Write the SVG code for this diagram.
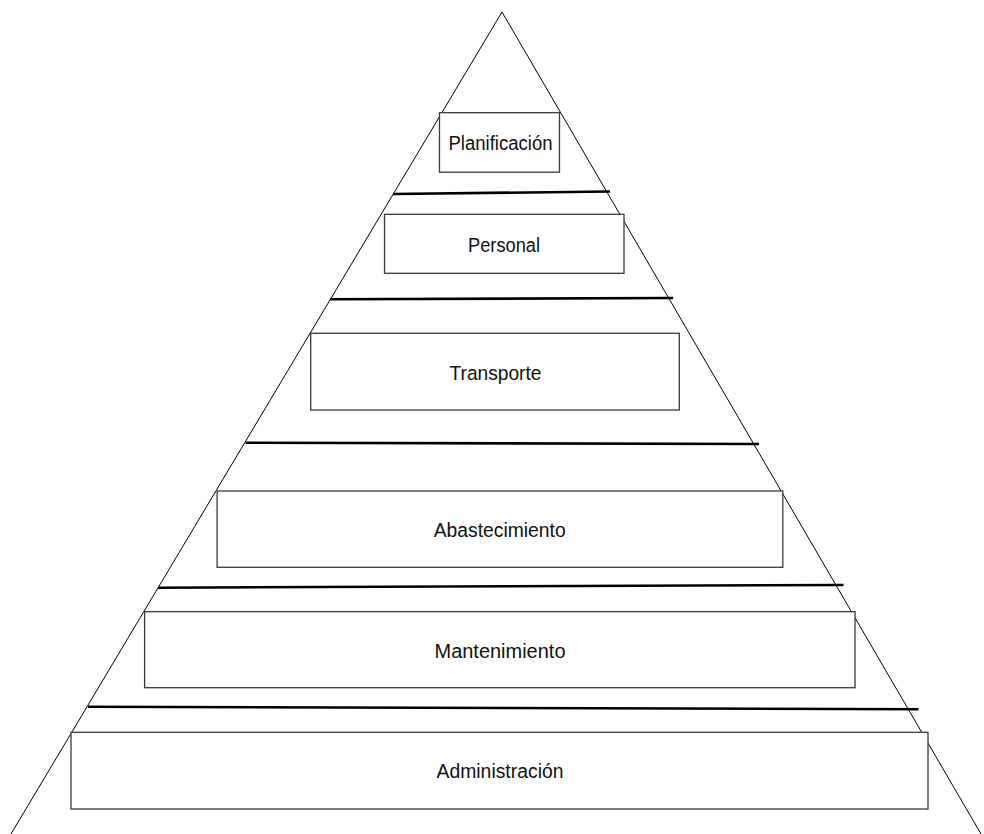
<svg xmlns="http://www.w3.org/2000/svg" width="984" height="834" viewBox="0 0 984 834">
  <style>
    .edge { stroke: #000; stroke-width: 1; fill: none; }
    .tier { stroke: #000; stroke-width: 2.6; fill: none; }
    .box { fill: #fff; stroke: #3a3a3a; stroke-width: 1.3; }
    .label { font-family: "Liberation Sans", Arial, sans-serif; font-size: 20px; fill: #111; text-anchor: middle; }
  </style>
  <rect width="984" height="834" fill="#fff"/>

  <!-- pyramid outline -->
  <g id="pyramid">
    <line class="edge" x1="502" y1="12" x2="11" y2="834"/>
    <line class="edge" x1="502" y1="12" x2="981" y2="834"/>
  </g>

  <!-- tier dividers -->
  <g id="connectors">
    <line class="tier" x1="393" y1="194" x2="610" y2="191.5"/>
    <line class="tier" x1="330" y1="299.3" x2="673" y2="298"/>
    <line class="tier" x1="245.5" y1="442.7" x2="759" y2="444"/>
    <line class="tier" x1="158" y1="587.7" x2="843.5" y2="585"/>
    <line class="tier" x1="88" y1="706.7" x2="918.5" y2="709.3"/>
  </g>

  <g id="planificacion">
    <rect class="box" x="439.5" y="112.7" width="120" height="59.5"/>
    <text class="label" x="500.5" y="150" textLength="104" lengthAdjust="spacingAndGlyphs">Planificación</text>
  </g>

  <g id="personal">
    <rect class="box" x="384.5" y="214.3" width="239.5" height="59"/>
    <text class="label" x="504" y="251.7" textLength="72" lengthAdjust="spacingAndGlyphs">Personal</text>
  </g>

  <g id="transporte">
    <rect class="box" x="310.7" y="333.3" width="368.6" height="76.7"/>
    <text class="label" x="495.5" y="380" textLength="92" lengthAdjust="spacingAndGlyphs">Transporte</text>
  </g>

  <g id="abastecimiento">
    <rect class="box" x="217.1" y="491" width="565.7" height="76.3"/>
    <text class="label" x="499.7" y="536.7" textLength="132" lengthAdjust="spacingAndGlyphs">Abastecimiento</text>
  </g>

  <g id="mantenimiento">
    <rect class="box" x="144.6" y="611.7" width="710.4" height="76"/>
    <text class="label" x="500" y="658.3" textLength="131" lengthAdjust="spacingAndGlyphs">Mantenimiento</text>
  </g>

  <g id="administracion">
    <rect class="box" x="71" y="732.3" width="857" height="76.7"/>
    <text class="label" x="500" y="778.3" textLength="127" lengthAdjust="spacingAndGlyphs">Administración</text>
  </g>
</svg>
